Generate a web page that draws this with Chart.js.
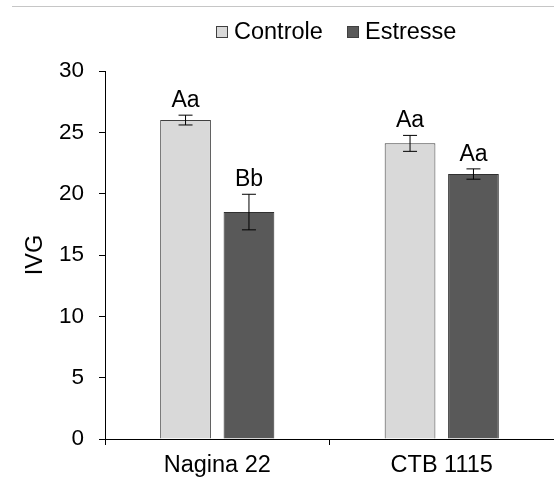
<!DOCTYPE html>
<html>
<head>
<meta charset="utf-8">
<script src="https://cdn.jsdelivr.net/npm/chart.js@4/dist/chart.umd.min.js"></script>
<style>
  html, body { margin: 0; padding: 0; background: #ffffff; }
  #wrap { width: 554px; height: 479px; position: relative; }
</style>
</head>
<body>
<div id="wrap"><canvas id="c" width="554" height="479"></canvas></div>
<script>
const categories = ["Nagina 22", "CTB 1115"];
const seriesNames = ["Controle", "Estresse"];
const controleValues = [26.0, 24.1];
const estresseValues = [18.5, 21.6];
const controleErrors = [0.4, 0.65];
const estresseErrors = [1.45, 0.42];
const controleLetters = ["Aa", "Aa"];
const estresseLetters = ["Bb", "Aa"];
const yTicks = [0, 5, 10, 15, 20, 25, 30];

const FONT = "'Liberation Sans', Arial, sans-serif";

const errorBarPlugin = {
  id: 'errorBars',
  afterDatasetsDraw(chart) {
    const ctx = chart.ctx;
    const y = chart.scales.y;
    chart.data.datasets.forEach((ds, di) => {
      const meta = chart.getDatasetMeta(di);
      meta.data.forEach((bar, i) => {
        const v = ds.data[i];
        const e = ds.errors[i];
        const yTop = y.getPixelForValue(v + e);
        const yBot = y.getPixelForValue(v - e);
        const x = bar.x;
        ctx.save();
        ctx.strokeStyle = '#000000';
        ctx.lineWidth = 1;
        ctx.beginPath();
        ctx.moveTo(x, yTop); ctx.lineTo(x, yBot);
        ctx.moveTo(x - 7, yTop); ctx.lineTo(x + 7, yTop);
        ctx.moveTo(x - 7, yBot); ctx.lineTo(x + 7, yBot);
        ctx.stroke();
        ctx.fillStyle = '#000000';
        ctx.font = '23px ' + FONT;
        ctx.textAlign = 'center';
        ctx.textBaseline = 'alphabetic';
        ctx.fillText(ds.letters[i], x, yTop - 8);
        ctx.restore();
      });
    });
  }
};

const legendPlugin = {
  id: 'customLegend',
  afterDraw(chart) {
    const ctx = chart.ctx;
    const starts = [216, 347];
    const cy = 32;
    ctx.save();
    ctx.font = '23.5px ' + FONT;
    ctx.textBaseline = 'middle';
    ctx.textAlign = 'left';
    chart.data.datasets.forEach((ds, i) => {
      const x = starts[i];
      ctx.fillStyle = ds.backgroundColor;
      ctx.fillRect(x + 0.5, cy - 5.5, 11, 11);
      ctx.strokeStyle = '#404040';
      ctx.lineWidth = 1;
      ctx.strokeRect(x + 0.5, cy - 5.5, 11, 11);
      ctx.fillStyle = '#000000';
      ctx.fillText(ds.label, x + 18, cy + 1);
    });
    ctx.restore();
  }
};

const topLinePlugin = {
  id: 'topLine',
  beforeDraw(chart) {
    const ctx = chart.ctx;
    ctx.save();
    ctx.fillStyle = '#ffffff';
    ctx.fillRect(0, 0, chart.width, chart.height);
    ctx.strokeStyle = '#c6c6c6';
    ctx.lineWidth = 1;
    ctx.beginPath();
    ctx.moveTo(12, 6.5); ctx.lineTo(554, 6.5);
    ctx.stroke();
    ctx.restore();
  }
};

new Chart(document.getElementById('c'), {
  type: 'bar',
  data: {
    labels: categories,
    datasets: [
      {
        label: seriesNames[0],
        data: controleValues,
        errors: controleErrors,
        letters: controleLetters,
        backgroundColor: '#d9d9d9',
        borderColor: '#404040',
        borderWidth: 1,
        borderSkipped: 'bottom'
      },
      {
        label: seriesNames[1],
        data: estresseValues,
        errors: estresseErrors,
        letters: estresseLetters,
        backgroundColor: '#595959',
        borderColor: '#303030',
        borderWidth: 1,
        borderSkipped: 'bottom'
      }
    ]
  },
  options: {
    responsive: false,
    animation: false,
    devicePixelRatio: 1,
    categoryPercentage: 0.565,
    barPercentage: 0.8,
    layout: { padding: { left: 0, right: 0, top: 71, bottom: 0 } },
    plugins: {
      tooltip: { enabled: false },
      legend: { display: false }
    },
    scales: {
      x: {
        offset: true,
        afterFit(scale) { scale.height = 40; },
        grid: { display: true, offset: true, drawOnChartArea: false, drawTicks: true, tickLength: 6, color: '#000000' },
        border: { display: true, color: '#000000' },
        ticks: { color: '#000000', font: { family: FONT, size: 23.5 }, padding: 6 }
      },
      y: {
        min: 0,
        max: 30,
        afterBuildTicks(scale) { scale.ticks = yTicks.map(v => ({ value: v })); },
        afterFit(scale) { scale.width = 105; },
        grid: { display: true, drawOnChartArea: false, drawTicks: true, tickLength: 6, color: '#000000' },
        border: { display: true, color: '#000000' },
        ticks: { color: '#000000', font: { family: FONT, size: 22.5 }, padding: 15 },
        title: { display: true, text: 'IVG', color: '#000000', font: { family: FONT, size: 23.5 }, padding: { top: 21, bottom: 0 } }
      }
    }
  },
  plugins: [topLinePlugin, errorBarPlugin, legendPlugin]
});
</script>
</body>
</html>
